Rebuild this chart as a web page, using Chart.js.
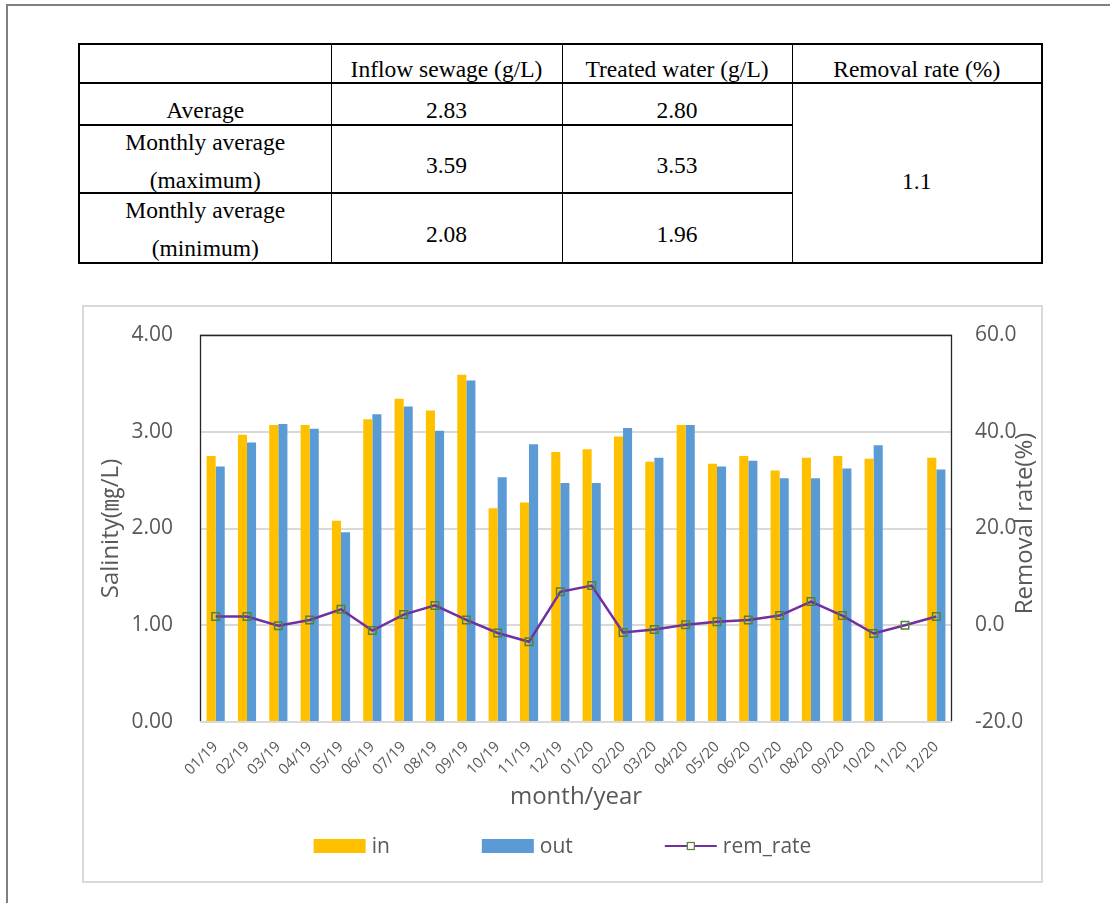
<!DOCTYPE html>
<html>
<head>
<meta charset="utf-8">
<title>Salinity of inflow sewage and treated water</title>
<script src="https://cdn.jsdelivr.net/npm/chart.js@4.4.1/dist/chart.umd.min.js"></script>
<style>
  html, body { margin: 0; padding: 0; background: #fff; }
  body { position: relative; width: 1110px; height: 903px; overflow: hidden; }
  .page-edge {
    position: absolute; left: 6px; top: 4px; width: 1200px; height: 1000px;
    border-top: 2px solid #808080; border-left: 2px solid #808080;
  }
  table.summary {
    position: absolute; left: 78px; top: 43px;
    border-collapse: collapse; table-layout: fixed;
    font-family: "Liberation Serif", "Times New Roman", serif;
    font-size: 23.5px; color: #000;
    border: 2px solid #000;
  }
  table.summary td {
    border-left: 1.5px solid #000; border-right: 1.5px solid #000;
    border-top: 2px solid #000; border-bottom: 2px solid #000;
    text-align: center; vertical-align: middle;
    padding: 11px 0 0 0; line-height: 26px;
  }
  table.summary td.two-line { padding: 0; vertical-align: top; }
  table.summary td.two-line div { position: relative; top: -3px; height: 60px; line-height: 38px; }
  table.summary td.merged { padding-top: 15px; }
  .chart-box {
    position: absolute; left: 82px; top: 305px;
    width: 957px; height: 574px;
    border: 2px solid #d9d9d9;
  }
  .chart-box canvas { display: block; }
</style>
</head>
<body>
<div class="page-edge"></div>
<table class="summary" id="summary"></table>
<div class="chart-box"><canvas id="salinity" width="957" height="574"></canvas></div>

<script>
// ---- summary table ----
const tableHeader = ['', 'Inflow sewage (g/L)', 'Treated water (g/L)', 'Removal rate (%)'];
const statLabels = [['Average'], ['Monthly average', '(maximum)'], ['Monthly average', '(minimum)']];
const statInflow = ['2.83', '3.59', '2.08'];
const statTreated = ['2.80', '3.53', '1.96'];
const statRemoval = '1.1';

// ---- monthly series ----
const months = ['01/19', '02/19', '03/19', '04/19', '05/19', '06/19', '07/19', '08/19', '09/19', '10/19', '11/19', '12/19',
                '01/20', '02/20', '03/20', '04/20', '05/20', '06/20', '07/20', '08/20', '09/20', '10/20', '11/20', '12/20'];
const inflow  = [2.75, 2.97, 3.07, 3.07, 2.08, 3.13, 3.34, 3.22, 3.59, 2.21, 2.27, 2.79,
                 2.82, 2.95, 2.69, 3.07, 2.67, 2.75, 2.60, 2.73, 2.75, 2.72, null, 2.73];
const outflow = [2.64, 2.89, 3.08, 3.03, 1.96, 3.18, 3.26, 3.01, 3.53, 2.53, 2.87, 2.47,
                 2.47, 3.04, 2.73, 3.07, 2.64, 2.70, 2.52, 2.52, 2.62, 2.86, null, 2.61];
const remRate = [1.8, 1.8, -0.1, 1.1, 3.3, -1.1, 2.2, 4.1, 1.1, -1.6, -3.4, 6.9,
                 8.2, -1.5, -0.9, 0.1, 0.7, 1.1, 2.0, 4.9, 2.0, -1.7, 0.0, 1.8];

// build the summary table
(function buildTable() {
  const t = document.getElementById('summary');
  const colWidths = [252, 231, 230, 250];
  const rowHeights = [39, 42, 68, 70];
  const cg = document.createElement('colgroup');
  colWidths.forEach(w => { const c = document.createElement('col'); c.style.width = w + 'px'; cg.appendChild(c); });
  t.appendChild(cg);
  const head = document.createElement('tr');
  head.style.height = rowHeights[0] + 'px';
  tableHeader.forEach(h => { const td = document.createElement('td'); td.textContent = h; head.appendChild(td); });
  t.appendChild(head);
  statLabels.forEach((lab, i) => {
    const tr = document.createElement('tr');
    tr.style.height = rowHeights[i + 1] + 'px';
    const l = document.createElement('td');
    if (lab.length > 1) {
      l.className = 'two-line';
      const d = document.createElement('div');
      lab.forEach((line, k) => {
        if (k) d.appendChild(document.createElement('br'));
        d.appendChild(document.createTextNode(line));
      });
      l.appendChild(d);
    } else {
      l.textContent = lab[0];
    }
    tr.appendChild(l);
    [statInflow[i], statTreated[i]].forEach(v => { const td = document.createElement('td'); td.textContent = v; tr.appendChild(td); });
    if (i === 0) {
      const m = document.createElement('td');
      m.rowSpan = statLabels.length; m.className = 'merged'; m.textContent = statRemoval;
      tr.appendChild(m);
    }
    t.appendChild(tr);
  });
})();

// ---- chart ----
const FONT = '"Open Sans", "Noto Sans", "Noto Sans CJK KR", sans-serif';
const GREY_TEXT = '#595959';
const COLOR_IN = '#FFC000';
const COLOR_OUT = '#5B9BD5';
const COLOR_RATE = '#7030A0';
const COLOR_MARK = '#548235';
const RIGHT_TITLE = 'Removal rate(%)';

// dark frame on the left, top and right of the plot area
const plotFrame = {
  id: 'plotFrame',
  beforeDatasetsDraw(chart) {
    const { ctx, chartArea: a } = chart;
    ctx.save();
    ctx.strokeStyle = '#262626';
    ctx.lineWidth = 1.3;
    ctx.beginPath();
    ctx.moveTo(a.left + 0.5, a.bottom - 1);
    ctx.lineTo(a.left + 0.5, a.top + 0.5);
    ctx.lineTo(a.right - 0.5, a.top + 0.5);
    ctx.lineTo(a.right - 0.5, a.bottom - 1);
    ctx.stroke();
    ctx.restore();
  }
};

// right-hand axis title, read from bottom to top
const rightTitle = {
  id: 'rightTitle',
  afterDraw(chart) {
    const { ctx, chartArea: a } = chart;
    const s = chart.scales.y1;
    ctx.save();
    ctx.font = '24px ' + FONT;
    ctx.fillStyle = GREY_TEXT;
    ctx.textAlign = 'center';
    ctx.textBaseline = 'middle';
    ctx.translate(s.right - 16, (a.top + a.bottom) / 2 - 5);
    ctx.rotate(-Math.PI / 2);
    ctx.fillText(RIGHT_TITLE, 0, 0);
    ctx.restore();
  }
};

// legend row under the axis title, items spaced widely
const wideLegend = {
  id: 'wideLegend',
  afterDraw(chart) {
    const { ctx } = chart;
    const ds = chart.data.datasets;
    const order = [1, 2, 0]; // in, out, rem_rate
    const boxW = 52, boxH = 14, textGap = 6, itemGap = 92;
    ctx.save();
    ctx.font = '21px ' + FONT;
    ctx.textBaseline = 'middle';
    ctx.textAlign = 'left';
    const widths = order.map(i => boxW + textGap + ctx.measureText(ds[i].label).width);
    const total = widths.reduce((s, w) => s + w, 0) + itemGap * (order.length - 1);
    let x = (chart.width - total) / 2;
    const y = chart.height - 35;
    order.forEach((i, k) => {
      const d = ds[i];
      if (d.type === 'line') {
        ctx.strokeStyle = d.borderColor;
        ctx.lineWidth = 2;
        ctx.beginPath();
        ctx.moveTo(x, y); ctx.lineTo(x + boxW, y);
        ctx.stroke();
        ctx.strokeStyle = d.pointBorderColor;
        ctx.lineWidth = 1.2;
        ctx.fillStyle = '#fff';
        ctx.fillRect(x + boxW / 2 - 3.5, y - 3.5, 7, 7);
        ctx.strokeRect(x + boxW / 2 - 3.5, y - 3.5, 7, 7);
      } else {
        ctx.fillStyle = d.backgroundColor;
        ctx.fillRect(x, y - boxH / 2, boxW, boxH);
      }
      ctx.fillStyle = GREY_TEXT;
      ctx.fillText(d.label, x + boxW + textGap, y + 1);
      x += widths[k] + itemGap;
    });
    ctx.restore();
  }
};

new Chart(document.getElementById('salinity'), {
  type: 'bar',
  data: {
    labels: months,
    datasets: [
      {
        type: 'line', label: 'rem_rate', data: remRate, yAxisID: 'y1', order: 0,
        borderColor: COLOR_RATE, borderWidth: 2.5, tension: 0,
        pointStyle: 'rect', pointRadius: 5.3, pointBorderColor: COLOR_MARK,
        pointBorderWidth: 1.5, pointBackgroundColor: 'rgba(0,0,0,0)'
      },
      { label: 'in', data: inflow, backgroundColor: COLOR_IN, yAxisID: 'y', order: 1,
        categoryPercentage: 0.58, barPercentage: 1.0 },
      { label: 'out', data: outflow, backgroundColor: COLOR_OUT, yAxisID: 'y', order: 1,
        categoryPercentage: 0.58, barPercentage: 1.0 }
    ]
  },
  options: {
    responsive: false,
    animation: false,
    devicePixelRatio: 1,
    layout: { padding: { top: 28, left: 0, right: 0, bottom: 0 } },
    plugins: { legend: { display: false }, tooltip: { enabled: false } },
    scales: {
      x: {
        grid: { display: false },
        border: { display: false },
        ticks: {
          color: GREY_TEXT, font: { family: FONT, size: 15 },
          minRotation: 45, maxRotation: 45, padding: 8, autoSkip: false
        },
        title: {
          display: true, text: 'month/year', color: GREY_TEXT,
          font: { family: FONT, size: 24, lineHeight: 1.2 },
          padding: { top: 0, bottom: 69 }
        },
        afterFit(s) { s.height = 159; }
      },
      y: {
        position: 'left', min: 0, max: 4,
        grid: { color: '#d9d9d9', lineWidth: 2, drawTicks: true, tickLength: 27, tickColor: 'rgba(0,0,0,0)' },
        border: { display: false },
        ticks: {
          stepSize: 1, padding: 0, color: GREY_TEXT, font: { family: FONT, size: 21 },
          callback: v => Number(v).toFixed(2)
        },
        title: {
          display: true, text: 'Salinity(㎎/L)', color: GREY_TEXT,
          font: { family: FONT, size: 24, lineHeight: 1.2 },
          padding: { top: 13, bottom: 0 }
        },
        afterFit(s) { s.width = 116; }
      },
      y1: {
        position: 'right', min: -20, max: 60,
        grid: { drawOnChartArea: false, drawTicks: true, tickLength: 23, tickColor: 'rgba(0,0,0,0)' },
        border: { display: false },
        ticks: {
          stepSize: 20, padding: 0, color: GREY_TEXT, font: { family: FONT, size: 21 },
          callback: v => Number(v).toFixed(1)
        },
        title: { display: false },
        afterFit(s) { s.width = 89; }
      }
    }
  },
  plugins: [plotFrame, rightTitle, wideLegend]
});
</script>
</body>
</html>
